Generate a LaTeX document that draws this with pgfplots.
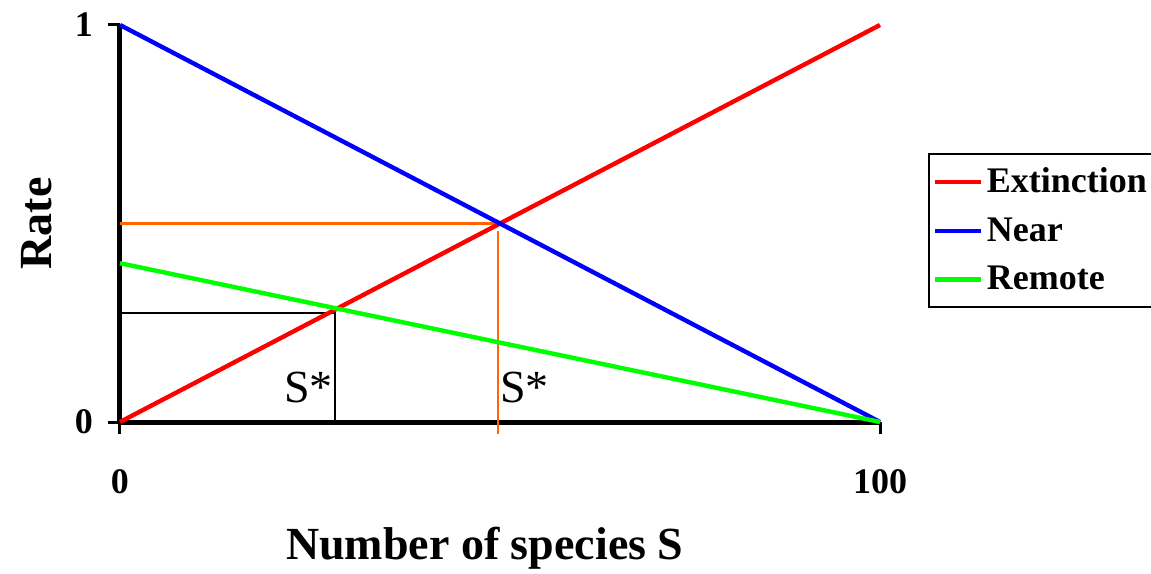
\documentclass[border=0pt]{standalone}
\usepackage{fontspec}
\setmainfont{Liberation Serif}
\usepackage{pgfplots}
\pgfplotsset{compat=1.18}
\definecolor{cRed}{RGB}{255,0,0}
\definecolor{cBlue}{RGB}{0,0,255}
\definecolor{cGreen}{RGB}{0,255,0}
\definecolor{cOrange}{RGB}{255,102,0}
\begin{document}
\begin{tikzpicture}
\begin{axis}[
  width=380pt, height=198.5pt, scale only axis,
  xmin=0, xmax=100, ymin=0, ymax=1,
  axis lines=left,
  axis line style={-, line width=2.5pt, black},
  clip=false,
  xtick={0,100}, xticklabels={0,100},
  ytick={0,1}, yticklabels={0,1},
  tick align=outside,
  major tick length=6pt,
  tick style={line width=1.5pt, black},
  xticklabel style={font=\fontsize{18}{20}\selectfont\bfseries, yshift=-14pt},
  yticklabel style={font=\fontsize{18}{20}\selectfont\bfseries, xshift=-4pt},
  xlabel={Number of species S},
  ylabel={Rate},
  xlabel style={font=\fontsize{23}{26}\selectfont\bfseries, at={(axis description cs:0.48,-0.317)}, anchor=center},
  ylabel style={font=\fontsize{23}{26}\selectfont\bfseries, at={(axis description cs:-0.11,0.5)}, anchor=center, rotate=0},
  legend style={at={(axis description cs:1.063,0.678)}, anchor=north west,
    draw=black, line width=1pt, font=\fontsize{18}{20}\selectfont\bfseries,
    row sep=7pt, inner xsep=2pt, inner ysep=5pt},
  legend cell align=left,
  legend image code/.code={\draw[#1, line width=2.2pt] (0cm,0cm) -- (0.8cm,0cm);},
]
\coordinate (O) at (rel axis cs:0,0);
% reference lines
\addplot[forget plot, black, line width=1pt] coordinates {(0,0.275) (28.3,0.275) (28.3,0)};
\addplot[forget plot, cOrange, line width=1.8pt] coordinates {(0,0.5) (50,0.5)};
\addplot[forget plot, cOrange, line width=1pt] coordinates {(49.7,0.48) (49.7,-0.03)};
% series
\addplot[cRed, line width=2.2pt] coordinates {(0,0) (100,1)};
\addlegendentry{Extinction}
\addplot[cBlue, line width=2.2pt] coordinates {(0,1) (100,0)};
\addlegendentry{Near}
\addplot[cGreen, line width=2.2pt] coordinates {(0,0.4) (100,0)};
\addlegendentry{Remote}
\node[anchor=east, font=\fontsize{23}{26}\selectfont, inner sep=1pt] at (axis cs:28.3,0.088) {S*};
\node[anchor=west, font=\fontsize{23}{26}\selectfont, inner sep=1pt] at (axis cs:49.7,0.088) {S*};
\end{axis}
\pgfresetboundingbox
\path ([shift={(-60pt,-75.5pt)}]O) rectangle +(575.5pt,286.5pt);
\end{tikzpicture}
\end{document}
